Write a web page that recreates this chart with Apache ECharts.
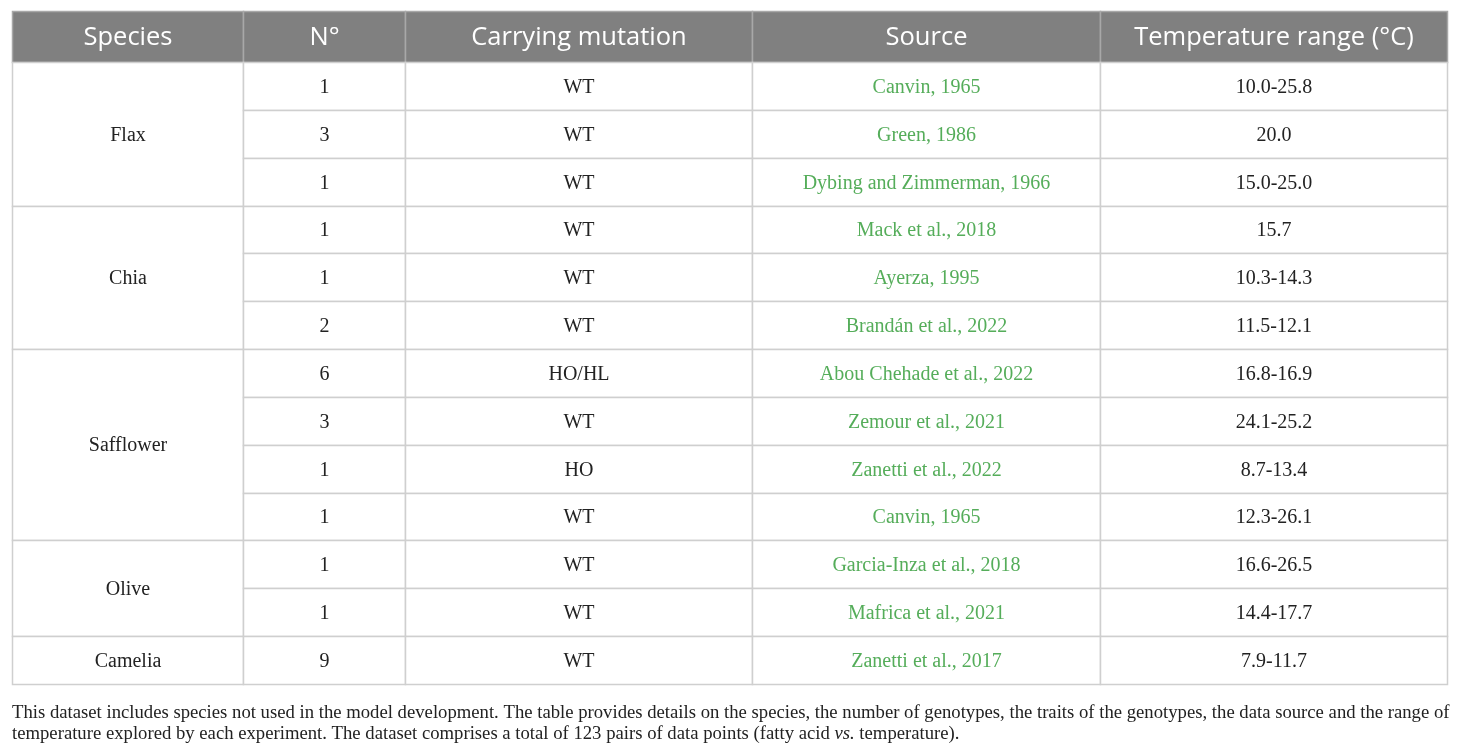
<!DOCTYPE html>
<html>
<head>
<meta charset="utf-8">
<script src="https://cdn.jsdelivr.net/npm/echarts@6/dist/echarts.min.js"></script>
<style>
html,body{margin:0;padding:0;background:#fff;}
#chart{width:1460px;height:748px;}
</style>
</head>
<body>
<div id="chart"></div>
<script>
// ---- data ----
const headers = ['Species', 'N°', 'Carrying mutation', 'Source', 'Temperature range (°C)'];
const species = ['Flax', 'Chia', 'Safflower', 'Olive', 'Camelia'];
const speciesRowCounts = [3, 3, 4, 2, 1];
const genotypeCounts = ['1', '3', '1', '1', '1', '2', '6', '3', '1', '1', '1', '1', '9'];
const mutations = ['WT', 'WT', 'WT', 'WT', 'WT', 'WT', 'HO/HL', 'WT', 'HO', 'WT', 'WT', 'WT', 'WT'];
const sources = ['Canvin, 1965', 'Green, 1986', 'Dybing and Zimmerman, 1966', 'Mack et al., 2018',
  'Ayerza, 1995', 'Brandán et al., 2022', 'Abou Chehade et al., 2022', 'Zemour et al., 2021',
  'Zanetti et al., 2022', 'Canvin, 1965', 'Garcia-Inza et al., 2018', 'Mafrica et al., 2021',
  'Zanetti et al., 2017'];
const tempRanges = ['10.0-25.8', '20.0', '15.0-25.0', '15.7', '10.3-14.3', '11.5-12.1', '16.8-16.9',
  '24.1-25.2', '8.7-13.4', '12.3-26.1', '16.6-26.5', '14.4-17.7', '7.9-11.7'];
const footnoteLine1 = 'This dataset includes species not used in the model development. The table provides details on the species, the number of genotypes, the traits of the genotypes, the data source and the range of';
const footnoteLine2a = 'temperature explored by each experiment. The dataset comprises a total of 123 pairs of data points (fatty acid ';
const footnoteLine2b = 'vs.';
const footnoteLine2c = ' temperature).';

// ---- layout (not data) ----
const colEdges = [0, 231, 393, 740, 1088, 1435];
const headerSpan = 51 / 47.85;
const nRows = genotypeCounts.length;

// build cells
const cells = [];
headers.forEach((h, i) => cells.push({ col: i, row: -headerSpan, span: headerSpan, text: h, kind: 'header' }));
let r0 = 0;
species.forEach((s, i) => {
  cells.push({ col: 0, row: r0, span: speciesRowCounts[i], text: s, kind: 'body' });
  r0 += speciesRowCounts[i];
});
for (let r = 0; r < nRows; r++) {
  cells.push({ col: 1, row: r, span: 1, text: genotypeCounts[r], kind: 'body' });
  cells.push({ col: 2, row: r, span: 1, text: mutations[r], kind: 'body' });
  cells.push({ col: 3, row: r, span: 1, text: sources[r], kind: 'link' });
  cells.push({ col: 4, row: r, span: 1, text: tempRanges[r], kind: 'body' });
}

function renderItem(params, api) {
  const c = cells[params.dataIndex];
  const p0 = api.coord([colEdges[c.col], c.row]);
  const p1 = api.coord([colEdges[c.col + 1], c.row + c.span]);
  const isH = c.kind === 'header';
  const x0 = Math.round(p0[0]) + 0.5, y0 = Math.round(p0[1]) + 0.5;
  const x1 = Math.round(p1[0]) + 0.5, y1 = Math.round(p1[1]) + 0.5;
  return {
    type: 'group',
    children: [
      {
        type: 'rect',
        shape: { x: x0, y: y0, width: x1 - x0, height: y1 - y0 },
        style: { fill: isH ? '#808080' : '#ffffff', stroke: isH ? '#a8a8a8' : '#cfcfcf', lineWidth: 1.5 }
      },
      {
        type: 'text',
        style: {
          x: (x0 + x1) / 2, y: (y0 + y1) / 2 + 1,
          text: c.text, align: 'center', verticalAlign: 'middle',
          fontFamily: isH ? 'Open Sans' : 'Liberation Serif',
          fontSize: isH ? 25.5 : 20,
          fill: isH ? '#ffffff' : (c.kind === 'link' ? '#55ad5a' : '#222222')
        }
      }
    ]
  };
}

const chart = echarts.init(document.getElementById('chart'));
chart.setOption({
  animation: false,
  backgroundColor: '#ffffff',
  grid: { left: 12, right: 13, top: 11, bottom: 64 },
  xAxis: { type: 'value', min: 0, max: colEdges[colEdges.length - 1], show: false },
  yAxis: { type: 'value', min: -headerSpan, max: nRows, inverse: true, show: false },
  title: {
    left: 7, top: 698,
    text: '{n|' + footnoteLine1 + '}\n{n|' + footnoteLine2a + '}{i|' + footnoteLine2b + '}{n|' + footnoteLine2c + '}',
    textStyle: {
      fontWeight: 'normal',
      rich: {
        n: { fontFamily: 'Liberation Serif', fontSize: 18.7, fontWeight: 'normal', color: '#222', lineHeight: 21 },
        i: { fontFamily: 'Liberation Serif', fontSize: 18.7, fontWeight: 'normal', fontStyle: 'italic', color: '#222', lineHeight: 21 }
      }
    }
  },
  series: [{
    type: 'custom',
    renderItem: renderItem,
    clip: false,
    data: cells.map(c => [c.col, c.row, c.span])
  }]
});
</script>
</body>
</html>
